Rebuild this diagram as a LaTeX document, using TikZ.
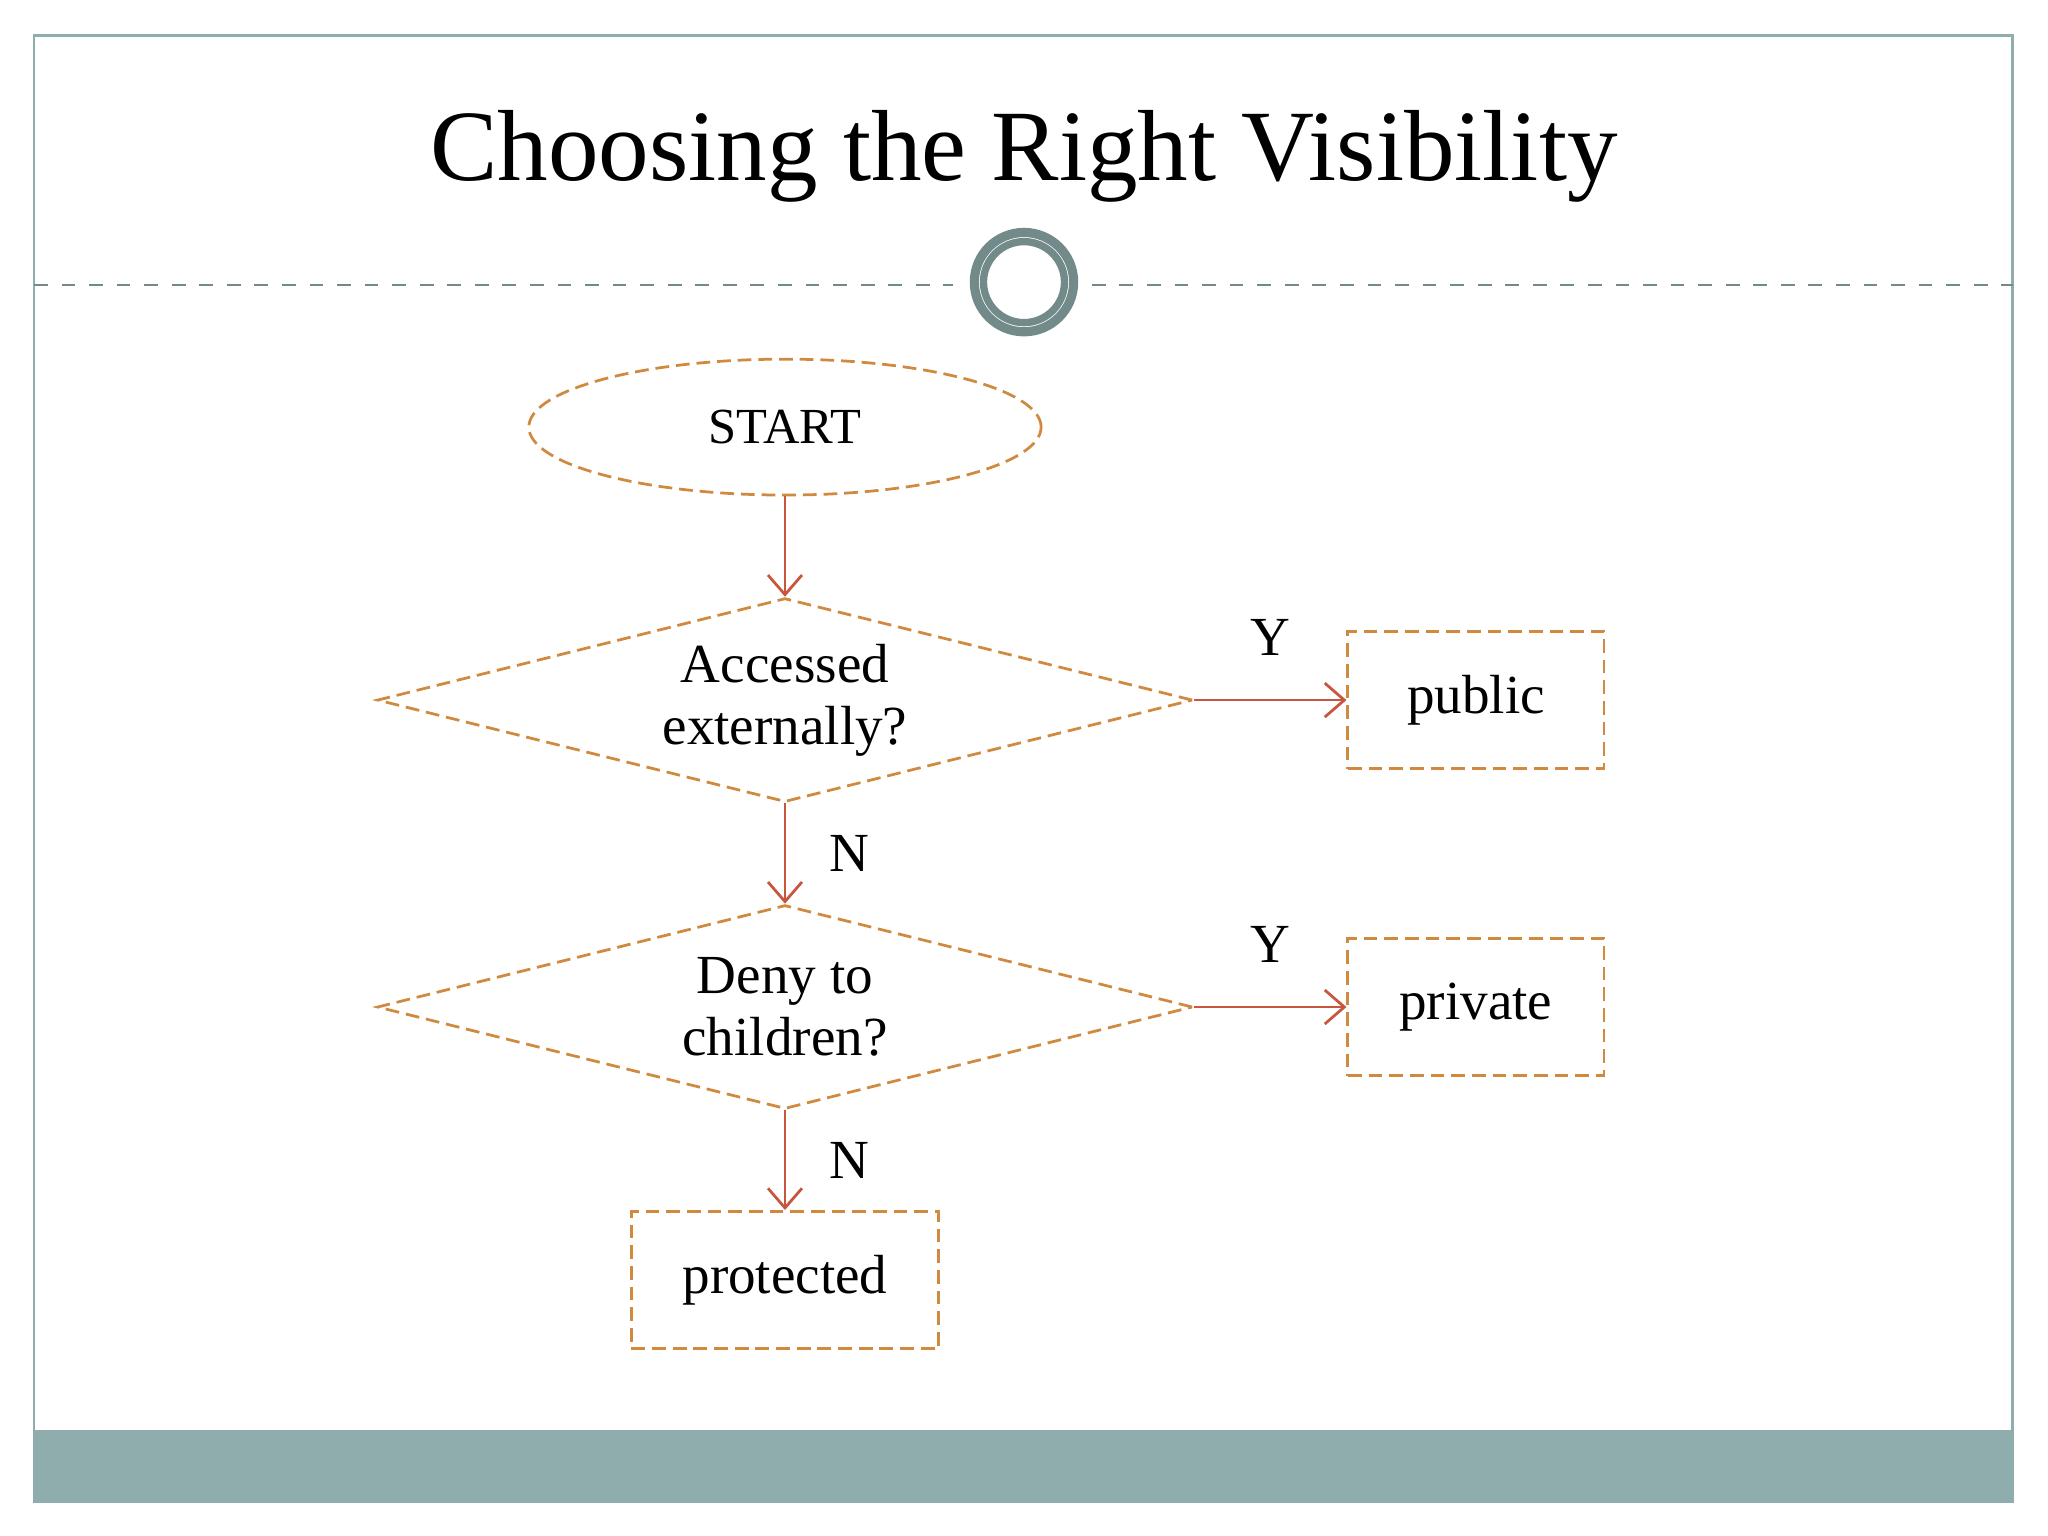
\documentclass[tikz,border=0pt]{standalone}
\usepackage{fontspec}
\setmainfont{Liberation Serif}
\usepackage{tikz}
\usetikzlibrary{positioning, calc, shapes.geometric, arrows.meta}

\definecolor{frameteal}{HTML}{8FADAD}
\definecolor{boxorange}{HTML}{D08A40}
\definecolor{arrowred}{HTML}{C8553D}

\tikzset{
  flowbox/.style={draw=boxorange, dash pattern=on 3pt off 1.5pt, semithick, minimum width=1.96cm, minimum height=1.05cm, font=\fontsize{12}{14}\selectfont},
  decision/.style={draw=boxorange, dash pattern=on 3pt off 1.5pt, semithick, diamond, aspect=4, minimum width=6.24cm, minimum height=1.56cm, align=center, inner sep=0pt, font=\fontsize{12}{13.5}\selectfont},
  startnode/.style={draw=boxorange, dash pattern=on 3pt off 1.5pt, semithick, ellipse, minimum width=3.92cm, minimum height=1.04cm, font=\fontsize{11}{13}\selectfont},
  flowarrow/.style={->, >={Straight Barb[length=1.5mm, width=2.6mm]}, draw=arrowred, semithick},
  branch/.style={font=\fontsize{12}{14}\selectfont}
}

\begin{document}
\begin{tikzpicture}[x=0.01cm, y=-0.01cm]
	\useasboundingbox (0,0) rectangle (1568,1176);
	\draw[frameteal, semithick] (26,27) rectangle (1541,1150);
	\fill[frameteal] (26,1095) rectangle (1541,1150);
	\draw[frameteal!80!black, dashed] (26,218) -- (730,218);
	\draw[frameteal!80!black, dashed] (836,218) -- (1541,218);
	\draw[frameteal!80!black, line width=2pt] (784,216) circle (0.38cm);
	\draw[frameteal!80!black, line width=1.6pt] (784,216) circle (0.31cm);
	\node (title) at (784,120) {\fontsize{22}{26}\selectfont Choosing the Right Visibility};

	\node[startnode]			(start)		at (601,327)	{START};
	\node[decision]				(ext)		at (601,536)	{Accessed\\externally?};
	\node[decision]				(deny)		at (601,771)	{Deny to\\children?};
	\node[flowbox]				(public)	at (1130,536)	{public};
	\node[flowbox]				(private)	at (1130,771)	{private};
	\node[flowbox, minimum width=2.35cm]	(protected)	at (601,980)	{protected};

	%Arrows:
	\draw[flowarrow] (start) -- (ext);
	\draw[flowarrow] (ext.east) -- node[branch, above, yshift=6pt] {Y} (public);
	\draw[flowarrow] (ext.south) -- node[branch, right, xshift=6pt] {N} (deny.north);
	\draw[flowarrow] (deny.east) -- node[branch, above, yshift=6pt] {Y} (private);
	\draw[flowarrow] (deny.south) -- node[branch, right, xshift=6pt] {N} (protected);
\end{tikzpicture}
\end{document}
